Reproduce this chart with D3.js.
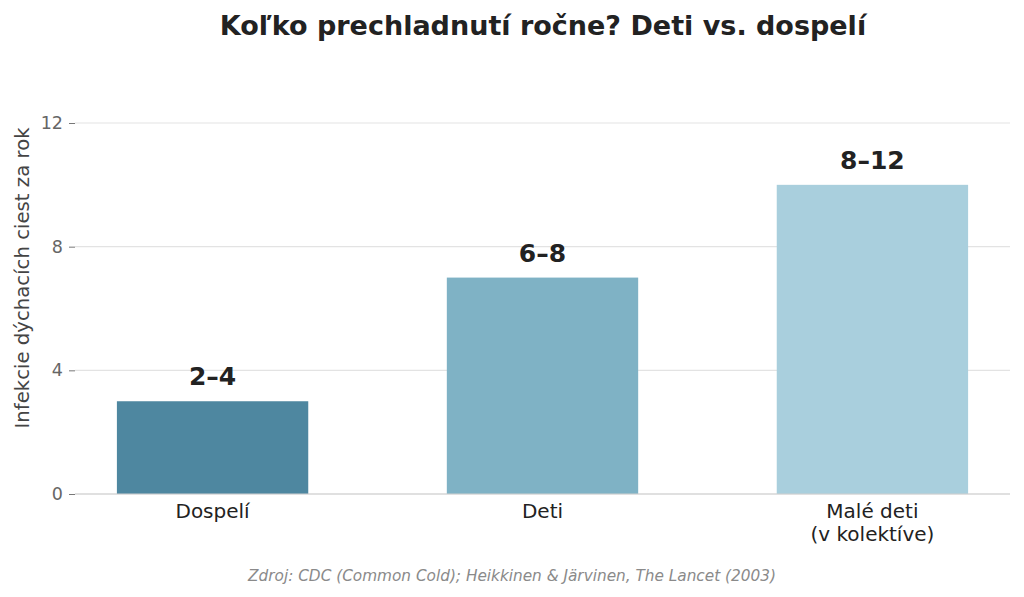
<!DOCTYPE html>
<html>
<head>
<meta charset="utf-8">
<script src="https://cdn.jsdelivr.net/npm/d3@7"></script>
<style>
  body { margin: 0; background: #fff; }
  svg { font-family: "DejaVu Sans", sans-serif; }
</style>
</head>
<body>
<svg id="chart" width="1024" height="597"></svg>
<script>
// data
var categories = ["Dospelí", "Deti", "Malé deti\n(v kolektíve)"];
var values = [3, 7, 10];
var rangeLabels = ["2–4", "6–8", "8–12"];
var barColors = ["#4e87a0", "#7fb2c5", "#a9cfdd"];
var yTicks = [0, 4, 8, 12];

var svg = d3.select("#chart");

var left = 75, right = 1010, bottom = 494;

var x = d3.scaleBand()
  .domain(d3.range(categories.length))
  .range([left, right])
  .paddingInner(0.42)
  .paddingOuter(0.127);

var y = d3.scaleLinear()
  .domain([0, 12])
  .range([bottom, 123]);

// gridlines
svg.append("g")
  .selectAll("line")
  .data(yTicks)
  .enter().append("line")
  .attr("x1", left).attr("x2", right)
  .attr("y1", d => y(d)).attr("y2", d => y(d))
  .attr("stroke", "#e3e3e3")
  .attr("stroke-width", 1.2);

// y axis
var yAxis = svg.append("g")
  .attr("transform", "translate(" + left + ",0)")
  .call(d3.axisLeft(y).tickValues(yTicks).tickSize(6).tickPadding(6));
yAxis.select(".domain").remove();
yAxis.selectAll(".tick line").attr("stroke", "#777");
yAxis.selectAll(".tick text")
  .attr("fill", "#666")
  .style("font-size", "17.5px")
  .style("font-family", "DejaVu Sans");

// bars
svg.append("g")
  .selectAll("rect")
  .data(values)
  .enter().append("rect")
  .attr("x", (d, i) => x(i))
  .attr("width", x.bandwidth())
  .attr("y", d => y(d))
  .attr("height", d => y(0) - y(d))
  .attr("fill", (d, i) => barColors[i]);

// bottom spine
svg.append("line")
  .attr("x1", left).attr("x2", right)
  .attr("y1", bottom).attr("y2", bottom)
  .attr("stroke", "#cfcfcf")
  .attr("stroke-width", 1.2);

// value labels
svg.append("g")
  .selectAll("text")
  .data(values)
  .enter().append("text")
  .attr("x", (d, i) => x(i) + x.bandwidth() / 2)
  .attr("y", d => y(d) - 16)
  .attr("text-anchor", "middle")
  .attr("fill", "#222")
  .style("font-size", "25px")
  .style("font-weight", "bold")
  .text((d, i) => rangeLabels[i]);

// category labels
var cat = svg.append("g")
  .selectAll("text")
  .data(categories)
  .enter().append("text")
  .attr("x", (d, i) => x(i) + x.bandwidth() / 2)
  .attr("y", bottom + 24)
  .attr("text-anchor", "middle")
  .attr("fill", "#222")
  .style("font-size", "20px");
cat.each(function(d) {
  var t = d3.select(this);
  d.split("\n").forEach(function(line, k) {
    t.append("tspan")
      .attr("x", t.attr("x"))
      .attr("dy", k === 0 ? 0 : 23)
      .text(line);
  });
});

// y label
svg.append("text")
  .attr("transform", "translate(29,278) rotate(-90)")
  .attr("text-anchor", "middle")
  .attr("fill", "#444")
  .style("font-size", "19.7px")
  .text("Infekcie dýchacích ciest za rok");

// title
svg.append("text")
  .attr("x", 543)
  .attr("y", 35)
  .attr("text-anchor", "middle")
  .attr("fill", "#222")
  .style("font-size", "27px")
  .style("font-weight", "bold")
  .text("Koľko prechladnutí ročne? Deti vs. dospelí");

// source
svg.append("text")
  .attr("x", 512)
  .attr("y", 581)
  .attr("text-anchor", "middle")
  .attr("fill", "#8a8a8a")
  .style("font-size", "15.3px")
  .style("font-style", "italic")
  .text("Zdroj: CDC (Common Cold); Heikkinen & Järvinen, The Lancet (2003)");
</script>
</body>
</html>
